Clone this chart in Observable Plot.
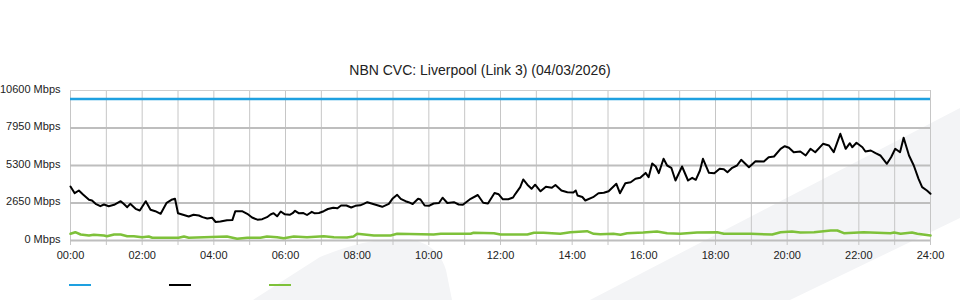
<!DOCTYPE html>
<html>
<head>
<meta charset="utf-8">
<script src="https://cdn.jsdelivr.net/npm/d3@7"></script>
<script src="https://cdn.jsdelivr.net/npm/@observablehq/plot@0.6"></script>
<style>
  body { margin: 0; background: #fff; font-family: "Liberation Sans", Arial, sans-serif; }
  #wrap { position: relative; width: 960px; height: 300px; overflow: hidden; }
  #bg { position: absolute; left: 0; top: 0; }
  #title { position: absolute; top: 62px; left: 0; width: 960px; text-align: center; font-size: 14px; color: #222; }
  #chart { position: absolute; left: 0; top: 80px; }
  .sw { position: absolute; top: 284px; width: 22px; height: 2px; }
</style>
</head>
<body>
<div id="wrap">
  <svg id="bg" width="960" height="300">
    <polygon points="590,300 960,108 960,218 790,300" fill="#f3f4f6"/>
    <path d="M253,300 L320,257 Q370,236 410,239 Q438,244 446,270 L452,300 Z" fill="#f3f4f6"/>
  </svg>
  <div id="title"></div>
  <div id="chart"></div>
  <div id="legend"></div>
</div>
<script>
const chartTitle = "NBN CVC: Liverpool (Link 3) (04/03/2026)";
const capacityMbps = 10000;
const yTicks = [0, 2650, 5300, 7950, 10600];
const hourTicks = d3.range(0, 1441, 60);
const labelTicks = d3.range(0, 1441, 120);
const seriesColors = ["#1ea0e0", "#000000", "#7ec13a"];

// [minute of day, Mbps]
const blackSamples = [
  [0,3816],[7,3343],[14,3533],[21,3251],[31,2876],[36,2827],[42,2593],[50,2424],[56,2544],[64,2424],
  [73,2523],[84,2777],[89,2593],[95,2353],[100,2593],[109,2240],[116,2120],[126,2777],[134,2169],[142,2071],
  [151,1887],[161,2664],[169,2876],[175,2947],[180,1929],[187,1837],[198,1696],[206,1816],[215,1767],[221,1650],
  [229,1555],[237,1611],[243,1307],[251,1343],[262,1435],[271,1442],[276,2071],[288,2063],[296,1887],[304,1625],
  [313,1470],[321,1505],[329,1647],[335,1837],[340,1929],[346,1710],[352,2049],[359,1851],[367,1816],[372,1929],
  [376,2099],[382,1929],[390,1943],[396,1802],[404,2028],[409,1922],[416,1943],[424,2071],[431,2226],[440,2318],
  [447,2283],[453,2473],[462,2473],[470,2332],[477,2452],[485,2487],[491,2593],[497,2707],[504,2615],[511,2523],
  [522,2381],[533,2593],[539,2947],[547,3230],[553,2947],[561,2777],[566,2707],[573,2579],[582,2947],[586,2900],
  [593,2473],[601,2459],[608,2615],[617,2650],[623,3025],[631,2650],[642,2707],[650,2544],[657,2530],[670,2947],
  [682,3215],[691,2671],[699,2615],[710,3357],[717,3265],[724,2911],[733,2911],[741,3039],[745,3300],[753,3767],
  [758,4311],[765,3943],[772,3653],[778,3943],[787,3477],[796,3802],[806,3724],[812,3922],[822,3533],[832,3413],
  [842,3392],[846,3533],[849,3180],[857,3074],[862,2827],[875,3060],[884,3343],[893,3371],[901,3484],[914,4007],
  [920,3343],[929,4049],[938,4120],[946,4360],[954,4430],[963,4777],[968,4473],[974,5441],[980,5229],[985,4756],
  [993,5774],[999,5300],[1006,5138],[1013,4240],[1024,5229],[1034,4240],[1041,4431],[1047,4289],[1054,4947],[1059,5774],
  [1069,4784],[1078,4756],[1087,5067],[1094,5039],[1100,4827],[1108,5138],[1116,5300],[1123,5703],[1136,5180],[1147,5604],
  [1161,5583],[1169,5887],[1178,5936],[1189,6480],[1196,6664],[1203,6551],[1211,6240],[1222,6289],[1231,6007],[1239,6480],
  [1247,6240],[1260,6833],[1270,6713],[1278,6240],[1289,7540],[1298,6480],[1305,6876],[1309,6593],[1316,6904],[1326,6593],
  [1331,6289],[1340,6360],[1348,6169],[1356,6007],[1367,5420],[1374,5887],[1381,6480],[1389,6240],[1395,7257],[1404,6007],
  [1412,5300],[1420,4360],[1426,3767],[1434,3533],[1440,3300]
];

const greenSamples = [
  [0,473],[8,587],[17,424],[31,353],[39,403],[56,353],[61,304],[73,424],[84,424],[95,304],
  [106,304],[120,233],[131,283],[137,191],[181,191],[190,283],[198,191],[262,283],[279,120],[296,191],
  [318,191],[329,283],[346,233],[357,163],[374,283],[396,233],[424,304],[441,233],[463,212],[474,283],
  [480,473],[508,353],[536,353],[547,473],[608,424],[620,473],[670,473],[675,544],[709,516],[720,424],
  [765,424],[776,544],[792,544],[820,473],[837,587],[865,657],[876,473],[887,438],[909,473],[921,403],
  [932,516],[959,565],[982,636],[999,516],[1021,473],[1049,565],[1083,587],[1094,473],[1139,473],[1175,424],
  [1189,587],[1208,636],[1222,565],[1245,587],[1273,707],[1284,707],[1295,516],[1328,587],[1373,516],[1379,565],
  [1390,473],[1409,565],[1418,473],[1440,353]
];

document.getElementById("title").textContent = chartTitle;

const fmtTime = m => String(Math.floor(m / 60)).padStart(2, "0") + ":00";

const chart = Plot.plot({
  width: 960,
  height: 180,
  marginTop: 10,
  marginBottom: 20,
  marginLeft: 70,
  marginRight: 30,
  x: { domain: [0, 1440] },
  y: { domain: [0, 10600] },
  style: { background: "transparent", fontFamily: "Liberation Sans, Arial, sans-serif", fontSize: "11px", color: "#222", overflow: "visible" },
  marks: [
    Plot.gridX(hourTicks, { stroke: "#c6c6c6", strokeOpacity: 1, strokeWidth: 1 }),
    Plot.axisX(hourTicks, { tickSize: 5, stroke: "#c6c6c6", tickFormat: () => "", label: null }),
    Plot.gridY(yTicks.slice(0, 4), { stroke: "#bebebe", strokeOpacity: 1, strokeWidth: 2 }),
    Plot.ruleY(yTicks.slice(4), { stroke: "#cfcfcf", strokeWidth: 1 }),
    Plot.axisX(labelTicks, { tickSize: 0, tickPadding: 11, tickFormat: fmtTime, label: null }),
    Plot.axisY(yTicks, { tickSize: 0, tickPadding: 10, dy: -1.5, tickFormat: d => d + " Mbps", label: null }),
    Plot.line(greenSamples, { x: d => d[0], y: d => d[1], stroke: seriesColors[2], strokeWidth: 2.5 }),
    Plot.line(blackSamples, { x: d => d[0], y: d => d[1], stroke: seriesColors[1], strokeWidth: 2 }),
    Plot.ruleY([capacityMbps], { stroke: seriesColors[0], strokeWidth: 2.5 })
  ]
});
document.getElementById("chart").appendChild(chart);

const legend = document.getElementById("legend");
seriesColors.forEach((c, i) => {
  const s = document.createElement("div");
  s.className = "sw";
  s.style.left = (69 + i * 100) + "px";
  s.style.background = c;
  legend.appendChild(s);
});
</script>
</body>
</html>
